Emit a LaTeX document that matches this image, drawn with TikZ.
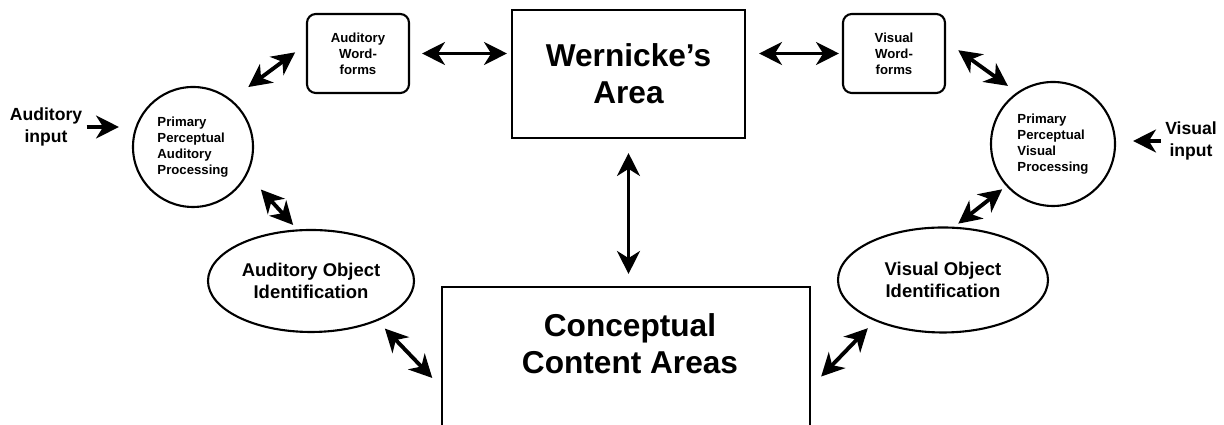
\documentclass[tikz,border=0pt]{standalone}
\usepackage{fontspec}
\setmainfont{Liberation Sans}
\usetikzlibrary{shapes.geometric}
\usetikzlibrary{arrows.meta}

\begin{document}
\begin{tikzpicture}[
    line width=1.2pt,
    every node/.style={draw, align=center, inner sep=2pt, font=\bfseries},
    wordbox/.style={rectangle, rounded corners=5pt, minimum width=2.04cm, minimum height=1.58cm, font=\fontsize{7.5}{9}\selectfont\bfseries},
    areabox/.style={rectangle, font=\fontsize{18}{21}\selectfont\bfseries},
    percept/.style={circle, align=left, font=\fontsize{7.5}{9}\selectfont\bfseries},
    objid/.style={ellipse, minimum width=4.12cm, minimum height=2.04cm, font=\fontsize{10.5}{12.5}\selectfont\bfseries},
    input label/.style={draw=none, font=\fontsize{10}{12.5}\selectfont\bfseries},
    link/.style={line width=2.2pt, {Stealth[length=13pt, width=13pt, inset=4pt]}-{Stealth[length=13pt, width=13pt, inset=4pt]}},
    feed/.style={line width=2.2pt, -{Stealth[length=13pt, width=13pt, inset=4pt]}},
  ]

  \useasboundingbox (0, 0) rectangle (24.48, 8.5);

  \node[input label] (audin) at (0.92, 5.96) {Auditory\\input};
  \node[percept, minimum size=2.4cm] (audpp) at (3.86, 5.56) {Primary\\Perceptual\\Auditory\\Processing};
  \node[wordbox] (audwf) at (7.16, 7.43) {Auditory\\Word-\\forms};
  \node[areabox, minimum width=4.66cm, minimum height=2.56cm] (wern) at (12.57, 7.02) {Wernicke’s\\Area};
  \node[wordbox] (viswf) at (17.88, 7.43) {Visual\\Word-\\forms};
  \node[percept, minimum size=2.48cm] (vispp) at (21.06, 5.62) {Primary\\Perceptual\\Visual\\Processing};
  \node[input label] (visin) at (23.82, 5.68) {Visual\\input};
  \node[objid] (audobj) at (6.22, 2.88) {Auditory Object\\Identification};
  \node[objid, minimum width=4.2cm, minimum height=2.1cm] (visobj) at (18.86, 2.9) {Visual Object\\Identification};
  \node[areabox, minimum width=7.36cm, minimum height=4cm] (concept) at (12.52, 0.76) {};
  \node[areabox, draw=none] (concepttext) at (12.6, 1.62) {Conceptual\\Content Areas};

  \draw[feed, shorten >=0.26cm] (audin) -- (audin -| audpp.west);
  \draw[feed, shorten >=0.34cm] (visin) -- (visin -| vispp.east);
  \draw[link, shorten <=0.24cm, shorten >=0.08cm] (audwf.east) -- (audwf.east -| wern.west);
  \draw[link, shorten <=0.26cm, shorten >=0.06cm] (viswf.west -| wern.east) -- (viswf.west);
  \draw[link, shorten <=0.42cm, shorten >=0.27cm] (audpp.51) -- (audwf.170);
  \draw[link, shorten <=0.3cm, shorten >=0.22cm] (viswf.13) -- (vispp.125);
  \draw[link, shorten <=0.4cm, shorten >=0.12cm] (audpp.-27) -- (audobj.105);
  \draw[link, shorten <=0.1cm, shorten >=0.1cm] (vispp.222) -- (visobj.78);
  \draw[link, shorten <=0.28cm, shorten >=0.24cm] (wern.south) -- (wern.south |- concept.north);
  \draw[link, shorten <=0.21cm, shorten >=0.25cm] (audobj.-31) -- (concept.west);
  \draw[link, shorten <=0.2cm, shorten >=0.29cm] (visobj.211) -- (concept.east);

\end{tikzpicture}
\end{document}
